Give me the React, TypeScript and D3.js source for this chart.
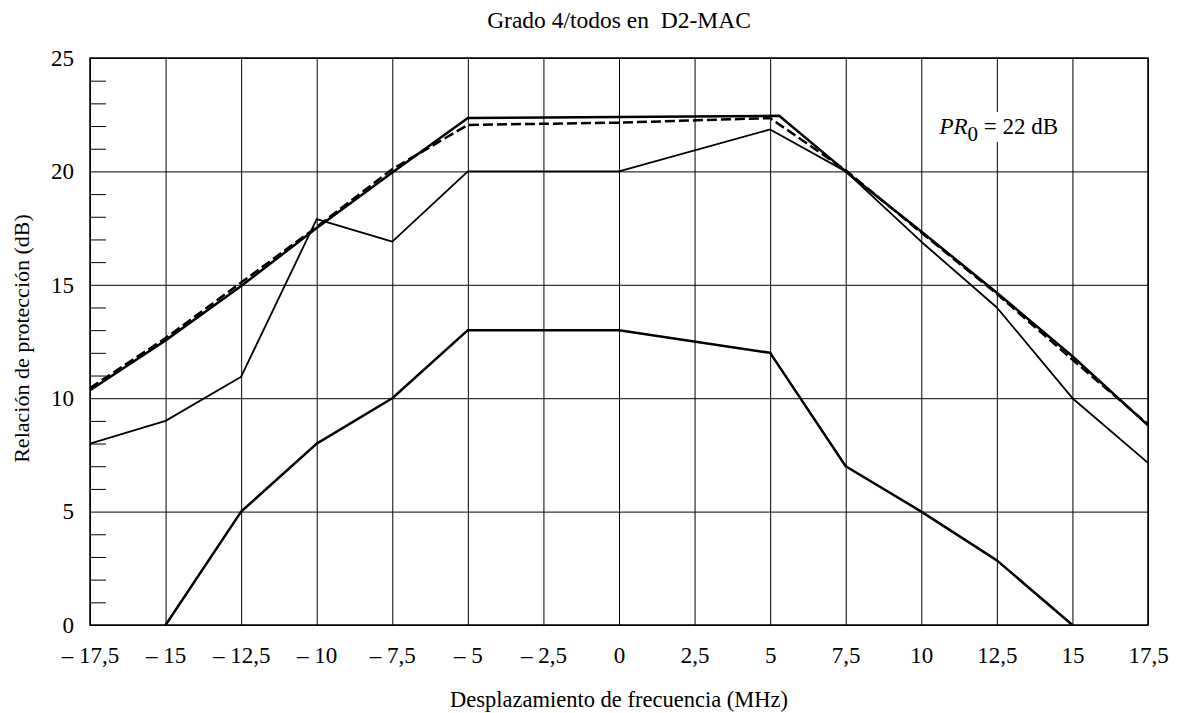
import { useEffect, useRef } from "react";
import * as d3 from "d3";

// frequency offsets (MHz) and protection ratios (dB)
const xTicks = [-17.5, -15, -12.5, -10, -7.5, -5, -2.5, 0, 2.5, 5, 7.5, 10, 12.5, 15, 17.5];
const yTicks = [0, 5, 10, 15, 20, 25];

const upperFreq = [-17.5, -15, -12.5, -10, -7.5, -5, 0, 5.3, 7.5, 10, 12.5, 15, 17.5];
const upperVals = [10.35, 12.55, 14.95, 17.5, 19.95, 22.35, 22.4, 22.45, 20.0, 17.35, 14.65, 11.85, 8.8];

const dashedFreq = [-17.5, -15, -12.5, -10, -7.5, -5, 0, 5, 7.5, 10, 12.5, 15, 17.5];
const dashedVals = [10.45, 12.65, 15.1, 17.55, 20.1, 22.05, 22.15, 22.35, 20.05, 17.3, 14.6, 11.7, 8.85];

const middleFreq = [-17.5, -15, -12.5, -10, -7.5, -5, 0, 5, 7.5, 10, 12.5, 15, 17.5];
const middleVals = [8, 9, 10.95, 17.9, 16.9, 20, 20, 21.85, 20, 16.9, 14, 10, 7.15];

const lowerFreq = [-15, -12.5, -10, -7.5, -5, 0, 5, 7.5, 10, 12.5, 15];
const lowerVals = [0, 5, 8, 10, 13, 13, 12, 7, 5, 2.85, 0];

const W = 1179;
const H = 713;
const FONT = "'Liberation Serif', 'Times New Roman', serif";

const fmt = (v: number) =>
  (v < 0 ? "\u2013 " : "") + String(Math.abs(v)).replace(".", ",");

export default function App() {
  const svgRef = useRef<SVGSVGElement>(null);

  useEffect(() => {
    if (!svgRef.current) return;
    const root = d3.select(svgRef.current);
    root.selectAll("*").remove();

    const margin = { top: 58, right: 31, bottom: 88, left: 90 };
    const width = W - margin.left - margin.right;
    const height = H - margin.top - margin.bottom;

    const x = d3.scaleLinear().domain([-17.5, 17.5]).range([0, width]);
    const y = d3.scaleLinear().domain([0, 25]).range([height, 0]);

    const svg = root
      .append("g")
      .attr("transform", `translate(${margin.left},${margin.top})`);

    // grid
    svg
      .append("g")
      .attr("transform", `translate(0,${height})`)
      .call(d3.axisBottom(x).tickValues(xTicks).tickSize(-height).tickFormat(() => ""))
      .call((g) => g.select(".domain").remove())
      .selectAll("line")
      .attr("stroke", "#000")
      .attr("stroke-width", 1);

    svg
      .append("g")
      .call(d3.axisLeft(y).tickValues(yTicks).tickSize(-width).tickFormat(() => ""))
      .call((g) => g.select(".domain").remove())
      .selectAll("line")
      .attr("stroke", "#000")
      .attr("stroke-width", 1);

    // minor ticks on the left edge
    const minor = d3.range(1, 25).filter((v) => v % 5 !== 0);
    svg
      .append("g")
      .call(d3.axisRight(y).tickValues(minor).tickSize(16).tickFormat(() => ""))
      .call((g) => g.select(".domain").remove())
      .selectAll("line")
      .attr("stroke", "#000");

    // label box (covers the grid line under it)
    const labelG = svg.append("g").attr("transform", `translate(${x(10.6)},${y(21.65)})`);
    labelG
      .append("rect")
      .attr("x", -5)
      .attr("y", -22)
      .attr("width", 133)
      .attr("height", 30)
      .attr("fill", "#fff");
    const lt = labelG
      .append("text")
      .attr("font-family", FONT)
      .attr("font-size", 23)
      .attr("fill", "#000");
    lt.append("tspan").attr("font-style", "italic").text("PR");
    lt.append("tspan").attr("dy", 7).attr("font-size", 21).text("0");
    lt.append("tspan").attr("dy", -7).text(" = 22 dB");

    // lines
    const line = d3
      .line<[number, number]>()
      .x((d) => x(d[0]))
      .y((d) => y(d[1]));

    const series = [
      { fx: lowerFreq, vals: lowerVals, w: 2.5, dash: null },
      { fx: middleFreq, vals: middleVals, w: 1.8, dash: null },
      { fx: dashedFreq, vals: dashedVals, w: 2.5, dash: "10,4" },
      { fx: upperFreq, vals: upperVals, w: 2.5, dash: null },
    ];
    series.forEach((s) => {
      svg
        .append("path")
        .datum(s.fx.map((f, i) => [f, s.vals[i]] as [number, number]))
        .attr("fill", "none")
        .attr("stroke", "#000")
        .attr("stroke-width", s.w)
        .attr("stroke-linejoin", "round")
        .attr("stroke-dasharray", s.dash)
        .attr("d", line);
    });

    // frame
    svg
      .append("rect")
      .attr("width", width)
      .attr("height", height)
      .attr("fill", "none")
      .attr("stroke", "#000")
      .attr("stroke-width", 1.5);

    // tick labels
    svg
      .append("g")
      .attr("transform", `translate(0,${height})`)
      .call(d3.axisBottom(x).tickValues(xTicks).tickSize(0).tickPadding(22).tickFormat((d) => fmt(+d)))
      .call((g) => g.select(".domain").remove())
      .selectAll("text")
      .attr("font-family", FONT)
      .attr("font-size", 23)
      .attr("fill", "#000");

    svg
      .append("g")
      .call(d3.axisLeft(y).tickValues(yTicks).tickSize(0).tickPadding(16).tickFormat((d) => String(d)))
      .call((g) => g.select(".domain").remove())
      .selectAll("text")
      .attr("font-family", FONT)
      .attr("font-size", 23)
      .attr("fill", "#000");

    // titles
    root
      .append("text")
      .attr("x", margin.left + width / 2)
      .attr("y", 28)
      .attr("text-anchor", "middle")
      .attr("font-family", FONT)
      .attr("font-size", 23.5)
      .attr("xml:space", "preserve")
      .style("white-space", "pre")
      .text("Grado 4/todos en  D2-MAC");

    root
      .append("text")
      .attr("x", margin.left + width / 2)
      .attr("y", 707)
      .attr("text-anchor", "middle")
      .attr("font-family", FONT)
      .attr("font-size", 22.5)
      .text("Desplazamiento de frecuencia (MHz)");

    root
      .append("text")
      .attr("transform", `translate(29,${margin.top + height / 2 - 3}) rotate(-90)`)
      .attr("text-anchor", "middle")
      .attr("font-family", FONT)
      .attr("font-size", 22)
      .text("Relación de protección (dB)");
  }, []);

  return (
    <div style={{ position: "absolute", left: 0, top: 0 }}>
      <svg ref={svgRef} width={W} height={H} style={{ display: "block", background: "#fff" }} />
    </div>
  );
}
